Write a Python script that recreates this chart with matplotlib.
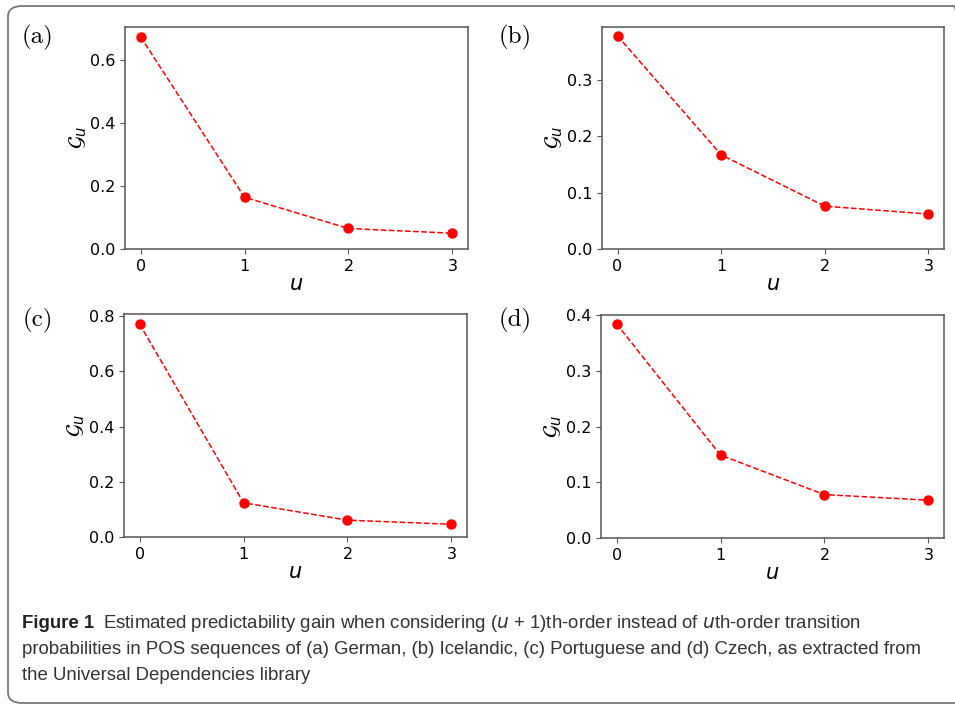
import matplotlib
matplotlib.use('Agg')
import matplotlib.pyplot as plt
from matplotlib.patches import FancyBboxPatch

u = [0, 1, 2, 3]
gain_german = [0.672, 0.164, 0.065, 0.050]
gain_icelandic = [0.378, 0.167, 0.076, 0.062]
gain_portuguese = [0.771, 0.124, 0.061, 0.046]
gain_czech = [0.385, 0.149, 0.078, 0.068]
panel_labels = ['(a)', '(b)', '(c)', '(d)']

caption_bold = 'Figure 1'
caption_lines = [
    'Estimated predictability gain when considering ($u$ + 1)th-order instead of $u$th-order transition',
    'probabilities in POS sequences of (a) German, (b) Icelandic, (c) Portuguese and (d) Czech, as extracted from',
    'the Universal Dependencies library',
]

W, H = 955, 704
fig = plt.figure(figsize=(W / 100, H / 100), dpi=100)

# outer rounded frame
frame = FancyBboxPatch((8 / W, 1 - 703 / H), 960 / W, 697 / H,
                       boxstyle='round,pad=0,rounding_size=0.015',
                       transform=fig.transFigure, facecolor='none',
                       edgecolor='#777777', lw=1.3, clip_on=False)
fig.patches.append(frame)

# axes boxes in pixels: left, top, right, bottom
boxes = [(125, 27, 468, 249), (602, 27, 944, 249),
         (124, 314, 467, 537), (601, 315, 944, 538)]
series = [gain_german, gain_icelandic, gain_portuguese, gain_czech]
label_pos = [(38, 37), (515, 37), (38, 320), (515, 320)]

for (l, t, r, b), vals, lab, (lx, ly) in zip(boxes, series, panel_labels, label_pos):
    ax = fig.add_axes([l / W, 1 - b / H, (r - l) / W, (b - t) / H])
    ax.plot(u, vals, 'r--', marker='o', markersize=6.5, lw=1.1)
    ax.set_ylim(bottom=0)
    ax.set_xticks(u)
    ax.tick_params(labelsize=11.5, color='#555555')
    for sp in ax.spines.values():
        sp.set_color('#555555')
        sp.set_linewidth(1.1)
    ax.set_xlabel('$u$', fontsize=15, labelpad=0)
    ax.set_ylabel(r'$\mathcal{G}_u$', fontsize=15, labelpad=1)
    fig.text(lx / W, 1 - ly / H, lab, family='cmr10', fontsize=18,
             ha='center', va='center')

# caption: fit the long second line to the reference width (22..924 px)
cap_font = 'Liberation Sans'
renderer = fig.canvas.get_renderer()
probe = fig.text(0, 0, caption_lines[1], family=cap_font, fontsize=13)
cap_size = 13 * 902 / probe.get_window_extent(renderer).width
probe.remove()

t0 = fig.text(22 / W, 1 - 628 / H, caption_bold, family=cap_font,
              fontweight='bold', fontsize=cap_size, color='#222222', va='baseline')
bb = t0.get_window_extent(renderer)
fig.text((bb.x1 + 9) / W, 1 - 628 / H, caption_lines[0], family=cap_font,
         fontsize=cap_size, color='#333333', va='baseline')
for i, line in enumerate(caption_lines[1:]):
    fig.text(22 / W, 1 - (654 + 26 * i) / H, line, family=cap_font,
             fontsize=cap_size, color='#333333', va='baseline')

fig.savefig('out.png', dpi=100)
